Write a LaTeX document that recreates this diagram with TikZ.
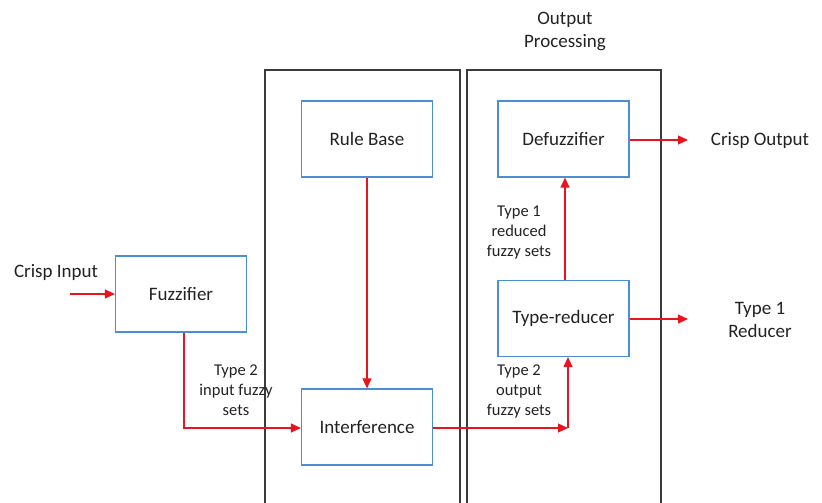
\documentclass[tikz,border=0pt]{standalone}
\usepackage{fontspec}
\setmainfont{Carlito}
\usetikzlibrary{arrows.meta,positioning}
\definecolor{boxblue}{HTML}{4A8FD6}
\definecolor{flowred}{HTML}{E8141E}
\definecolor{frame}{HTML}{3A3A3A}
\definecolor{ink}{HTML}{222222}
\begin{document}
\begin{tikzpicture}[x=1pt,y=-1pt,
  every node/.style={text=ink},
  block/.style={draw=boxblue,line width=1.2pt,minimum width=131pt,minimum height=76pt,inner sep=0pt,font=\fontsize{19}{23}\selectfont},
  label/.style={align=center,font=\fontsize{19}{23}\selectfont,inner sep=0pt},
  small/.style={align=center,font=\fontsize{16.5}{20}\selectfont,inner sep=0pt},
  flow/.style={draw=flowred,line width=1.1pt,-{Triangle[length=10pt,width=9pt]}},
  panel/.style={draw=frame,line width=1.5pt}]
\useasboundingbox (0,0) rectangle (822,503);
% stage frames (open at the bottom)
\draw[panel] (265,510) -- (265,70) -- (460,70) -- (460,510);
\draw[panel] (467,510) -- (467,70) -- (661,70) -- (661,510);
\node[label] (optitle) at (565,31) {Output\\Processing};
% blocks
\node[block] (fuzz) at (181,294) {Fuzzifier};
\node[block] (rule) at (367,139) {Rule Base};
\node[block] (inf) at (367,427) {Interference};
\node[block] (defuzz) at (563.5,139) {Defuzzifier};
\node[block] (tred) at (563.5,318.5) {Type-reducer};
% outer labels
\node[label] (cin) at (56,272) {Crisp Input};
\node[label] (cout) at (760,140) {Crisp Output};
\node[label] (t1r) at (760,320) {Type 1\\Reducer};
\node[small] (l1) at (236,390) {Type 2\\input fuzzy\\sets};
\node[small] (l2) at (519,391) {Type 2\\output\\fuzzy sets};
\node[small] (l3) at (519,233) {Type 1\\reduced\\fuzzy sets};
% connector ends
\coordinate (inS) at (70,294);
\coordinate (fzC) at (184,428);
\coordinate (orC) at (568,428);
\coordinate (tdX) at (565,0);
\coordinate (coE) at (688,140);
\coordinate (trE) at (688,319);
% connectors
\draw[flow] (inS) -- (fuzz.west|-inS);
\draw[flow] (fuzz.south-|fzC) -- (fzC) -- (inf.west|-fzC);
\draw[flow] (rule.south) -- (inf.north);
\draw[flow] (inf.east|-orC) -- (orC);
\draw[flow] (orC) -- (tred.south-|orC);
\draw[flow] (tred.north-|tdX) -- (defuzz.south-|tdX);
\draw[flow] (defuzz.east|-coE) -- (coE);
\draw[flow] (tred.east|-trE) -- (trE);
\end{tikzpicture}
\end{document}
